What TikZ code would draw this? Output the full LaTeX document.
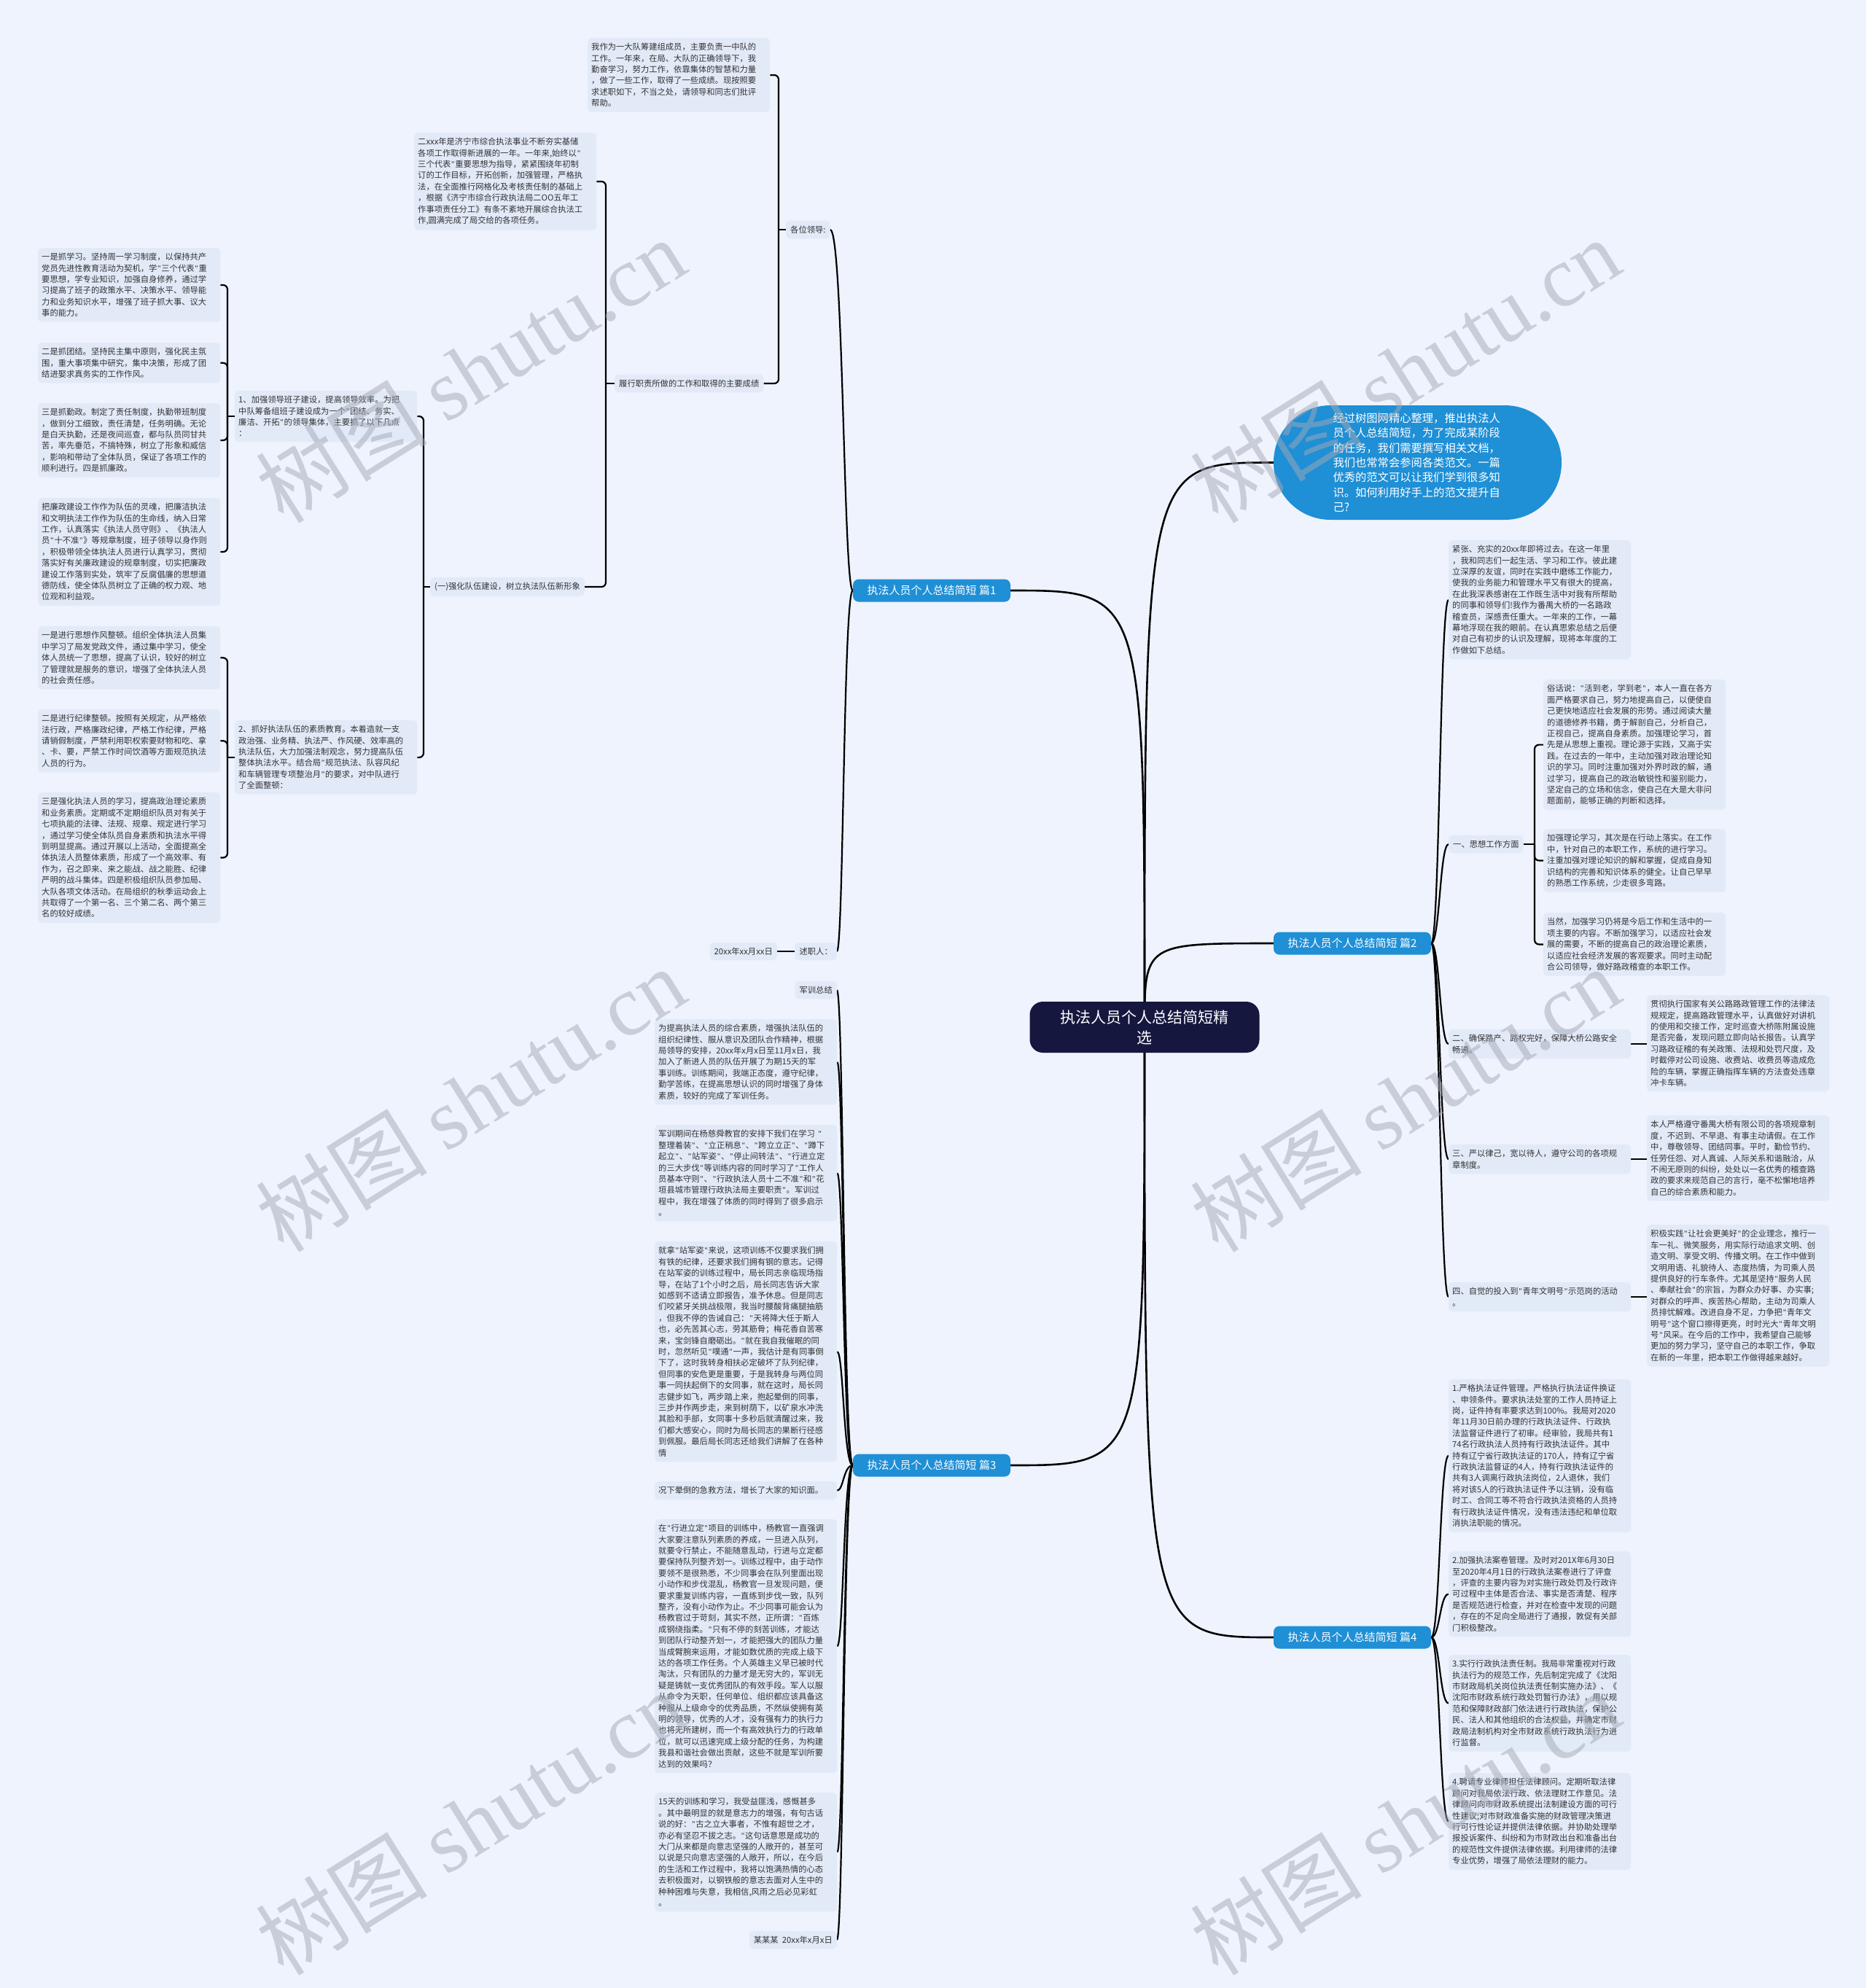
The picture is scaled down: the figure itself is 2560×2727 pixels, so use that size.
\documentclass[tikz,border=0pt]{standalone}
\usepackage{fontspec}
\setmainfont{Noto Sans CJK SC}
\newfontfamily\wmlat{Liberation Serif}
\newfontfamily\qfont{Liberation Sans}
\pgfdeclarelayer{bglayer}
\pgfdeclarelayer{fglayer}
\pgfsetlayers{bglayer,main,fglayer}
\definecolor{bgc}{HTML}{EEF3FD}
\definecolor{boxc}{HTML}{E2EAF8}
\definecolor{txtc}{HTML}{333333}
\definecolor{bluec}{HTML}{1F8FD6}
\definecolor{navyc}{HTML}{15173F}
\definecolor{wmc}{HTML}{A4A9B6}
\newcommand\fszA{\fontsize{11.3}{15.4}\selectfont}
\newcommand\fszB{\fontsize{15}{18}\selectfont}
\newcommand\fszC{\fontsize{21}{28}\selectfont}
\newcommand\fszI{\fontsize{15.3}{20.3}\selectfont}
\newcommand\fszW{\fontsize{118}{118}\selectfont}
\newcommand\qmark{\makebox[6pt][c]{\qfont\symbol{34}}}
\begin{document}
{\catcode`\"=\active \gdef"{\qmark}}
\catcode`\"=\active
\begin{tikzpicture}[x=1pt,y=-1pt,
 tbox/.style={fill=boxc, rounded corners=5pt, text=txtc, font=\fszA, inner xsep=5pt, inner ysep=7pt, text width=240pt, align=left, anchor=north west},
 sbox/.style={fill=boxc, rounded corners=5pt, text=txtc, font=\fszA, inner xsep=6pt, inner ysep=7pt},
 lvlone/.style={fill=bluec, rounded corners=8pt, text=white, font=\fszB, minimum width=216pt, minimum height=31pt, inner sep=0pt},
 rootnode/.style={fill=navyc, rounded corners=18pt, text=white, font=\fszC, minimum width=315pt, minimum height=70pt, align=center, inner sep=0pt},
 conn/.style={draw=black, line width=2.2pt},
 rconn/.style={draw=black, line width=2.6pt},
 elb/.style={conn, rounded corners=6pt},
 wm/.style={text=wmc, opacity=0.5, font=\fszW, rotate=32, inner sep=0pt}
]
\useasboundingbox (0,0) rectangle (2560,2727);

% ---------- root and level one
\node[rootnode] (root) at (1570,1409) {执法人员个人总结简短精\\选};
\node[lvlone] (p1) at (1278,810) {执法人员个人总结简短 篇1};
\node[lvlone] (p3) at (1278,2010) {执法人员个人总结简短 篇3};
\node[lvlone] (p2) at (1855,1294) {执法人员个人总结简短 篇2};
\node[lvlone] (p4) at (1855,2246) {执法人员个人总结简短 篇4};
\node[fill=bluec, rounded corners=78pt, minimum width=395pt, minimum height=157pt, text=white, font=\fszI, text width=232pt, align=left, inner sep=0pt] (intro) at (1944.5,634.5) {经过树图网精心整理，推出执法人\\员个人总结简短，为了完成某阶段\\的任务，我们需要撰写相关文档，\\我们也常常会参阅各类范文。一篇\\优秀的范文可以让我们学到很多知\\识。如何利用好手上的范文提升自\\己?};

% ---------- branch 1 (left)
\node[sbox, anchor=west] (glp) at (1078,315) {各位领导:};
\node[tbox] (la1) at (806,52) {我作为一大队筹建组成员，主要负责一中队的\\工作。一年来，在局、大队的正确领导下，我\\勤奋学习，努力工作，依靠集体的智慧和力量\\，做了一些工作，取得了一些成绩。现按照要\\求述职如下，不当之处，请领导和同志们批评\\帮助。};
\node[sbox, anchor=west] (lz) at (843,526) {履行职责所做的工作和取得的主要成绩};
\node[tbox] (la2) at (568,182) {二xxx年是济宁市综合执法事业不断夯实基储\\各项工作取得新进展的一年。一年来,始终以"\\三个代表"重要思想为指导，紧紧围绕年初制\\订的工作目标，开拓创新，加强管理，严格执\\法，在全面推行网格化及考核责任制的基础上\\，根据《济宁市综合行政执法局二OO五年工\\作事项责任分工》有条不紊地开展综合执法工\\作,圆满完成了局交给的各项任务。};
\node[sbox, anchor=west] (q1) at (590,805) {(一)强化队伍建设，树立执法队伍新形象};
\node[tbox] (n1) at (322,536) {1、加强领导班子建设，提高领导效率。为把\\中队筹备组班子建设成为一个"团结、务实、\\廉洁、开拓"的领导集体，主要抓了以下几点\\：};
\node[tbox] (n2) at (322,988) {2、抓好执法队伍的素质教育。本着造就一支\\政治强、业务精、执法严、作风硬、效率高的\\执法队伍，大力加强法制观念，努力提高队伍\\整体执法水平。结合局"规范执法、队容风纪\\和车辆管理专项整治月"的要求，对中队进行\\了全面整顿：};
\node[tbox] (l1) at (52,340) {一是抓学习。坚持周一学习制度，以保持共产\\党员先进性教育活动为契机，学"三个代表"重\\要思想，学专业知识，加强自身修养，通过学\\习提高了班子的政策水平、决策水平、领导能\\力和业务知识水平，增强了班子抓大事、议大\\事的能力。};
\node[tbox] (l2) at (52,470) {二是抓团结。坚持民主集中原则，强化民主氛\\围，重大事项集中研究，集中决策，形成了团\\结进娶求真务实的工作作风。};
\node[tbox] (l3) at (52,553) {三是抓勤政。制定了责任制度，执勤带班制度\\，做到分工细致，责任清楚，任务明确。无论\\是白天执勤，还是夜间巡查，都与队员同甘共\\苦，率先垂范，不搞特殊，树立了形象和威信\\，影响和带动了全体队员，保证了各项工作的\\顺利进行。四是抓廉政。};
\node[tbox] (l4) at (52,683) {把廉政建设工作作为队伍的灵魂，把廉洁执法\\和文明执法工作作为队伍的生命线，纳入日常\\工作，认真落实《执法人员守则》、《执法人\\员"十不准"》等规章制度，班子领导以身作则\\，积极带领全体执法人员进行认真学习，贯彻\\落实好有关廉政建设的规章制度，切实把廉政\\建设工作落到实处，筑牢了反腐倡廉的思想道\\德防线，使全体队员树立了正确的权力观、地\\位观和利益观。};
\node[tbox] (l5) at (52,859) {一是进行思想作风整顿。组织全体执法人员集\\中学习了局发党政文件，通过集中学习，使全\\体人员统一了思想，提高了认识，较好的树立\\了管理就是服务的意识，增强了全体执法人员\\的社会责任感。};
\node[tbox] (l6) at (52,973) {二是进行纪律整顿。按照有关规定，从严格依\\法行政，严格廉政纪律，严格工作纪律，严格\\请销假制度，严禁利用职权索要财物和吃、拿\\、卡、要，严禁工作时间饮酒等方面规范执法\\人员的行为。};
\node[tbox] (l7) at (52,1087) {三是强化执法人员的学习，提高政治理论素质\\和业务素质。定期或不定期组织队员对有关于\\七项执能的法律、法规、规章、规定进行学习\\，通过学习使全体队员自身素质和执法水平得\\到明显提高。通过开展以上活动，全面提高全\\体执法人员整体素质，形成了一个高效率、有\\作为，召之即来、来之能战、战之能胜、纪律\\严明的战斗集体。四是积极组织队员参加局、\\大队各项文体活动。在局组织的秋季运动会上\\共取得了一个第一名、三个第二名、两个第三\\名的较好成绩。};
\node[sbox, anchor=east] (szr) at (1148,1305) {述职人：};
\node[sbox, anchor=east] (dt) at (1066,1305) {20xx年xx月xx日};

% ---------- branch 3 (left)
\node[sbox, anchor=east] (jx) at (1148,1358) {军训总结};
\node[tbox] (m1) at (898,1398) {为提高执法人员的综合素质，增强执法队伍的\\组织纪律性、服从意识及团队合作精神，根据\\局领导的安排，20xx年x月x日至11月x日，我\\加入了新进人员的队伍开展了为期15天的军\\事训练。训练期间，我端正态度，遵守纪律，\\勤学苦练，在提高思想认识的同时增强了身体\\素质，较好的完成了军训任务。};
\node[tbox] (m2) at (898,1543) {军训期间在杨慈舜教官的安排下我们在学习 "\\整理着装"、"立正稍息"、"跨立立正"、"蹲下\\起立"、"站军姿"、"停止间转法"、"行进立定\\的三大步伐"等训练内容的同时学习了"工作人\\员基本守则"、"行政执法人员十二不准"和"花\\垣县城市管理行政执法局主要职责"。军训过\\程中，我在增强了体质的同时得到了很多启示\\。};
\node[tbox] (m3) at (898,1703) {就拿"站军姿"来说，这项训练不仅要求我们拥\\有铁的纪律，还要求我们拥有钢的意志。记得\\在站军姿的训练过程中，局长同志亲临现场指\\导，在站了1个小时之后，局长同志告诉大家\\如感到不适请立即报告，准予休息。但是同志\\们咬紧牙关挑战极限，我当时腰酸背痛腿抽筋\\，但我不停的告诫自己："天将降大任于斯人\\也，必先苦其心志，劳其筋骨；梅花香自苦寒\\来，宝剑锋自磨砺出。"就在我自我催眠的同\\时，忽然听见"噗通"一声，我估计是有同事倒\\下了，这时我转身相扶必定破坏了队列纪律，\\但同事的安危更是重要，于是我转身与两位同\\事一同扶起倒下的女同事，就在这时，局长同\\志健步如飞，两步踏上来，抱起晕倒的同事，\\三步并作两步走，来到树荫下，以矿泉水冲洗\\其脸和手部，女同事十多秒后就清醒过来，我\\们都大感安心，同时为局长同志的果断行径感\\到佩服。最后局长同志还给我们讲解了在各种\\情};
\node[tbox] (m4) at (898,2032) {况下晕倒的急救方法，增长了大家的知识面。};
\node[tbox] (m5) at (898,2084) {在"行进立定"项目的训练中，杨教官一直强调\\大家要注意队列素质的养成，一旦进入队列，\\就要令行禁止，不能随意乱动，行进与立定都\\要保持队列整齐划一。训练过程中，由于动作\\要领不是很熟悉，不少同事会在队列里面出现\\小动作和步伐混乱，杨教官一旦发现问题，便\\要求重复训练内容，一直练到步伐一致，队列\\整齐，没有小动作为止。不少同事可能会认为\\杨教官过于苛刻，其实不然，正所谓："百炼\\成钢绕指柔。"只有不停的刻苦训练，才能达\\到团队行动整齐划一，才能把强大的团队力量\\当成臂腕来运用，才能如数优质的完成上级下\\达的各项工作任务。个人英雄主义早已被时代\\淘汰，只有团队的力量才是无穷大的，军训无\\疑是铸就一支优秀团队的有效手段。军人以服\\从命令为天职，任何单位、组织都应该具备这\\种服从上级命令的优秀品质，不然纵使拥有英\\明的领导，优秀的人才，没有强有力的执行力\\也将无所建树，而一个有高效执行力的行政单\\位，就可以迅速完成上级分配的任务，为构建\\我县和谐社会做出贡献，这些不就是军训所要\\达到的效果吗？};
\node[tbox] (m6) at (898,2459) {15天的训练和学习，我受益匪浅，感慨甚多\\。其中最明显的就是意志力的增强，有句古话\\说的好："古之立大事者，不惟有超世之才，\\亦必有坚忍不拔之志。"这句话意思是成功的\\大门从来都是向意志坚强的人敞开的，甚至可\\以说是只向意志坚强的人敞开，所以，在今后\\的生活和工作过程中，我将以饱满热情的心态\\去积极面对，以钢铁般的意志去面对人生中的\\种种困难与失意，我相信,风雨之后必见彩虹\\。};
\node[sbox, anchor=east] (m7) at (1148,2661) {某某某\ \ 20xx年x月x日};

% ---------- branch 2 (right)
\node[tbox] (r0) at (1987,741) {紧张、充实的20xx年即将过去。在这一年里\\，我和同志们一起生活、学习和工作。彼此建\\立深厚的友谊，同时在实践中磨练工作能力，\\使我的业务能力和管理水平又有很大的提高，\\在此我深表感谢在工作既生活中对我有所帮助\\的同事和领导们!我作为番禺大桥的一名路政\\稽查员，深感责任重大。一年来的工作，一幕\\幕地浮现在我的眼前。在认真思索总结之后便\\对自己有初步的认识及理解，现将本年度的工\\作做如下总结。};
\node[sbox, anchor=west] (r1) at (1987,1158) {一、思想工作方面};
\node[tbox] (r1a) at (2117,932) {俗话说："活到老，学到老"，本人一直在各方\\面严格要求自己，努力地提高自己，以便使自\\己更快地适应社会发展的形势。通过阅读大量\\的道德修养书籍，勇于解剖自己，分析自己，\\正视自己，提高自身素质。加强理论学习，首\\先是从思想上重视。理论源于实践，又高于实\\践。在过去的一年中，主动加强对政治理论知\\识的学习。同时注重加强对外界时政的解，通\\过学习，提高自己的政治敏锐性和鉴别能力，\\坚定自己的立场和信念，使自己在大是大非问\\题面前，能够正确的判断和选择。};
\node[tbox] (r1b) at (2117,1137) {加强理论学习，其次是在行动上落实。在工作\\中，针对自己的本职工作，系统的进行学习。\\注重加强对理论知识的解和掌握，促成自身知\\识结构的完善和知识体系的健全。让自己早早\\的熟悉工作系统，少走很多弯路。};
\node[tbox] (r1c) at (2117,1252) {当然，加强学习仍将是今后工作和生活中的一\\项主要的内容。不断加强学习，以适应社会发\\展的需要，不断的提高自己的政治理论素质，\\以适应社会经济发展的客观要求。同时主动配\\合公司领导，做好路政稽查的本职工作。};
\node[tbox] (r2) at (1987,1412) {二、确保路产、路权完好，保障大桥公路安全\\畅通。};
\node[tbox] (r2a) at (2259,1365) {贯彻执行国家有关公路路政管理工作的法律法\\规规定，提高路政管理水平，认真做好对讲机\\的使用和交接工作，定时巡查大桥陈附属设施\\是否完备，发现问题立即向站长报告。认真学\\习路政征稽的有关政策、法规和处罚尺度，及\\时截停对公司设施、收费站、收费员等造成危\\险的车辆，掌握正确指挥车辆的方法查处违章\\冲卡车辆。};
\node[tbox] (r3) at (1987,1570) {三、严以律己，宽以待人，遵守公司的各项规\\章制度。};
\node[tbox] (r3a) at (2259,1530) {本人严格遵守番禺大桥有限公司的各项规章制\\度，不迟到、不早退、有事主动请假。在工作\\中，尊敬领导、团结同事。平时，勤俭节约、\\任劳任怨、对人真诚、人际关系和谐融洽，从\\不闹无原则的纠纷，处处以一名优秀的稽查路\\政的要求来规范自己的言行，毫不松懈地培养\\自己的综合素质和能力。};
\node[tbox] (r4) at (1987,1759) {四、自觉的投入到"青年文明号"示范岗的活动\\。};
\node[tbox] (r4a) at (2259,1680) {积极实践"让社会更美好"的企业理念，推行一\\车一礼、微笑服务，用实际行动追求文明、创\\造文明、享受文明、传播文明。在工作中做到\\文明用语、礼貌待人、态度热情，为司乘人员\\提供良好的行车条件。尤其是坚持"服务人民\\、奉献社会"的宗旨，为群众办好事、办实事;\\对群众的呼声、疾苦热心帮助，主动为司乘人\\员排忧解难。改进自身不足，力争把"青年文\\明号"这个窗口擦得更亮，时时光大"青年文明\\号"风采。在今后的工作中，我希望自己能够\\更加的努力学习，坚守自己的本职工作，争取\\在新的一年里，把本职工作做得越来越好。};

% ---------- branch 4 (right)
\node[tbox] (f1) at (1987,1892) {1.严格执法证件管理。严格执行执法证件换证\\、申领条件。要求执法处室的工作人员持证上\\岗，证件持有率要求达到100\%。我局对2020\\年11月30日前办理的行政执法证件、行政执\\法监督证件进行了初审。经审验，我局共有1\\74名行政执法人员持有行政执法证件。其中\\持有辽宁省行政执法证的170人，持有辽宁省\\行政执法监督证的4人，持有行政执法证件的\\共有3人调离行政执法岗位，2人退休，我们\\将对该5人的行政执法证件予以注销，没有临\\时工、合同工等不符合行政执法资格的人员持\\有行政执法证件情况，没有违法违纪和单位取\\消执法职能的情况。};
\node[tbox] (f2) at (1987,2128) {2.加强执法案卷管理。及时对201X年6月30日\\至2020年4月1日的行政执法案卷进行了评查\\，评查的主要内容为对实施行政处罚及行政许\\可过程中主体是否合法、事实是否清楚、程序\\是否规范进行检查，并对在检查中发现的问题\\，存在的不足向全局进行了通报，敦促有关部\\门积极整改。};
\node[tbox] (f3) at (1987,2270) {3.实行行政执法责任制。我局非常重视对行政\\执法行为的规范工作，先后制定完成了《沈阳\\市财政局机关岗位执法责任制实施办法》、《\\沈阳市财政系统行政处罚暂行办法》，用以规\\范和保障财政部门依法进行行政执法，保护公\\民、法人和其他组织的合法权益，并确定市财\\政局法制机构对全市财政系统行政执法行为进\\行监督。};
\node[tbox] (f4) at (1987,2432) {4.聘请专业律师担任法律顾问。定期听取法律\\顾问对我局依法行政、依法理财工作意见。法\\律顾问向市财政系统提出法制建设方面的可行\\性建议;对市财政准备实施的财政管理决策进\\行可行性论证并提供法律依据。并协助处理举\\报投诉案件、纠纷和为市财政出台和准备出台\\的规范性文件提供法律依据。利用律师的法律\\专业优势，增强了局依法理财的能力。};

% ---------- bracket x positions
\coordinate (bL) at (312,0);
\coordinate (bN) at (581,0);
\coordinate (bA) at (831,0);
\coordinate (bG) at (1068,0);
\coordinate (bP) at (1157,0);
\coordinate (bR) at (1975,0);
\coordinate (bS) at (2105,0);

\begin{pgfonlayer}{bglayer}
\fill[bgc] (0,0) rectangle (2560,2727);
% root curves
\draw[rconn] (root.center) .. controls (root.center |- p1.east) .. (p1.east);
\draw[rconn] (root.center) .. controls (root.center |- p3.east) .. (p3.east);
\draw[rconn] (root.center) .. controls (root.center |- intro.west) .. (intro.west);
\draw[rconn] (root.center) .. controls (root.center |- p2.west) .. (p2.west);
\draw[rconn] (root.center) .. controls (root.center |- p4.west) .. (p4.west);
% level one S-curves
\foreach \c in {glp,szr}
  \draw[conn] (p1.west) .. controls (p1.west -| bP) and (\c.east -| bP) .. (\c.east);
\foreach \c in {jx,m1,m2,m3,m4,m5,m6,m7}
  \draw[conn] (p3.west) .. controls (p3.west -| bP) and (\c.east -| bP) .. (\c.east);
\foreach \c in {r0,r1,r2,r3,r4}
  \draw[conn] (p2.east) .. controls (p2.east -| bR) and (\c.west -| bR) .. (\c.west);
\foreach \c in {f1,f2,f3,f4}
  \draw[conn] (p4.east) .. controls (p4.east -| bR) and (\c.west -| bR) .. (\c.west);
% elbow brackets
\draw[conn] (glp.west) -- (glp.west -| bG);
\foreach \c in {la1,lz} \draw[elb] (glp.west -| bG) |- (\c.east);
\draw[conn] (lz.west) -- (lz.west -| bA);
\foreach \c in {la2,q1} \draw[elb] (lz.west -| bA) |- (\c.east);
\draw[conn] (q1.west) -- (q1.west -| bN);
\foreach \c in {n1,n2} \draw[elb] (q1.west -| bN) |- (\c.east);
\draw[conn] (n1.west) -- (n1.west -| bL);
\foreach \c in {l1,l2,l3,l4} \draw[elb] (n1.west -| bL) |- (\c.east);
\draw[conn] (n2.west) -- (n2.west -| bL);
\foreach \c in {l5,l6,l7} \draw[elb] (n2.west -| bL) |- (\c.east);
\draw[conn] (r1.east) -- (r1.east -| bS);
\foreach \c in {r1a,r1b,r1c} \draw[elb] (r1.east -| bS) |- (\c.west);
% single children
\draw[conn] (szr.west) -- (dt.east);
\draw[conn] (r2.east) -- (r2.east -| r2a.west);
\draw[conn] (r3.east) -- (r3.east -| r3a.west);
\draw[conn] (r4.east) -- (r4.east -| r4a.west);
\end{pgfonlayer}

% ---------- watermarks
\begin{pgfonlayer}{fglayer}
\foreach \p/\n in {{(645,508)}/w1,{(1927,508)}/w2,{(645,1508)}/w3,{(1927,1508)}/w4,{(645,2500)}/w5,{(1927,2500)}/w6}
  \node[wm] (\n) at \p {树图 {\wmlat shutu.cn}};
\end{pgfonlayer}
\end{tikzpicture}
\end{document}
